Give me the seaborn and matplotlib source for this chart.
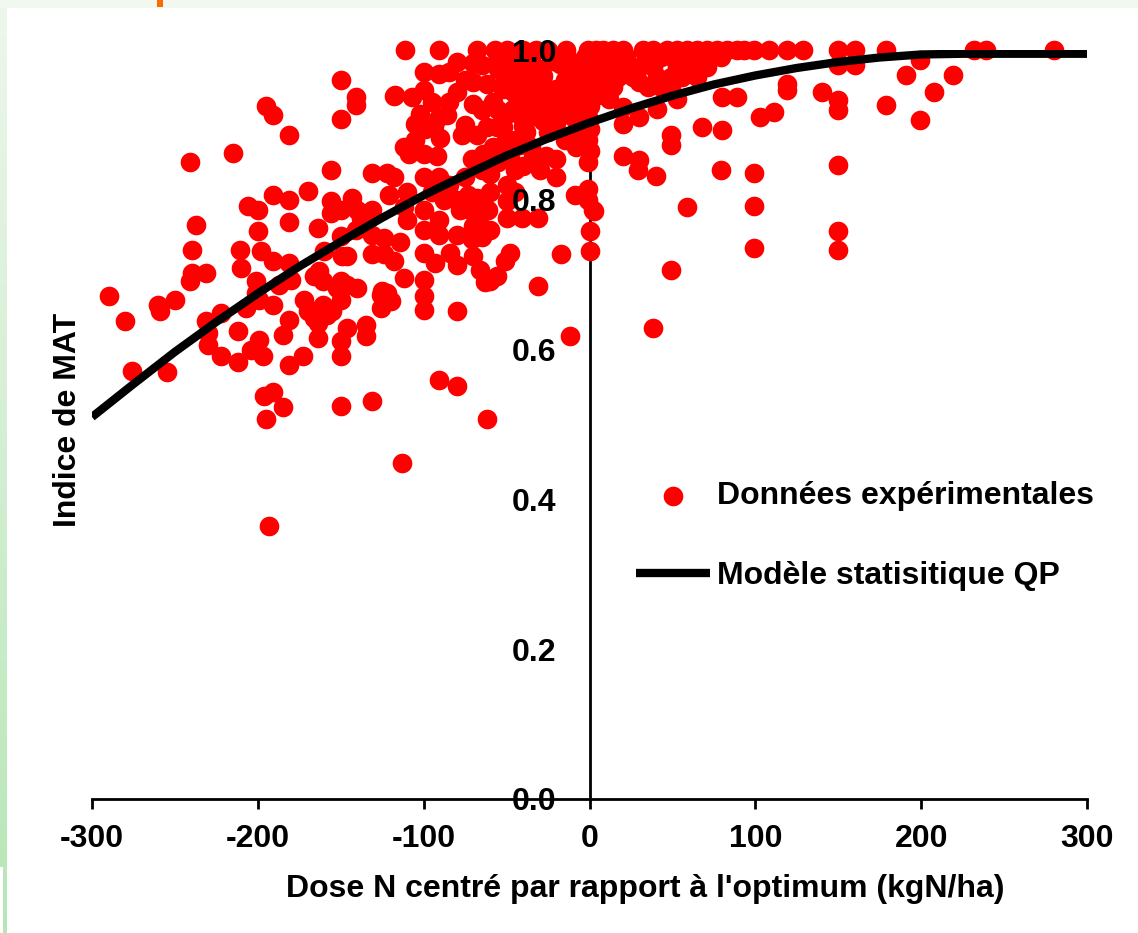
import matplotlib
matplotlib.use("Agg")
import matplotlib.pyplot as plt
from matplotlib.patches import Rectangle
from matplotlib.colors import LinearSegmentedColormap
import numpy as np
import seaborn as sns

# ---------------- data ----------------
points = [
    (-290,0.672),(-280,0.638),(-276,0.571),(-260,0.660),(-259,0.651),(-255,0.570),(-250,0.666),
    (-241,0.850),(-241,0.692),(-240,0.733),(-240,0.702),(-237,0.767),
    (-231,0.702),(-231,0.638),(-230,0.622),(-230,0.606),(-222,0.649),(-222,0.592),
    (-215,0.863),(-212,0.625),(-212,0.584),(-211,0.733),(-210,0.709),
    (-207,0.655),(-206,0.792),(-204,0.599),(-201,0.676),(-201,0.692),(-200,0.787),(-200,0.759),
    (-199,0.613),(-199,0.666),(-198,0.732),(-197,0.591),(-196,0.538),(-195,0.925),(-195,0.508),
    (-193,0.365),(-191,0.913),(-191,0.807),(-191,0.718),(-191,0.660),(-191,0.544),
    (-187,0.686),(-185,0.619),(-185,0.524),(-181,0.887),(-181,0.800),(-181,0.771),(-181,0.716),
    (-181,0.639),(-181,0.579),(-180,0.693),
    (-173,0.592),(-172,0.666),(-170,0.812),(-170,0.651),(-167,0.651),(-166,0.698),(-166,0.642),
    (-164,0.763),(-164,0.635),(-164,0.615),(-163,0.705),
    (-161,0.692),(-161,0.660),(-160,0.732),(-158,0.646),(-156,0.840),(-156,0.799),(-156,0.783),(-155,0.651),
    (-152,0.682),(-150,0.960),(-150,0.908),(-150,0.787),(-150,0.752),(-150,0.692),(-150,0.666),
    (-150,0.611),(-150,0.592),(-150,0.525),
    (-149,0.725),(-146,0.725),(-146,0.686),(-146,0.629),(-143,0.803),(-141,0.937),(-141,0.926),
    (-141,0.760),(-140,0.786),(-140,0.682),(-138,0.776),
    (-135,0.633),(-135,0.618),(-131,0.836),(-131,0.786),(-131,0.753),(-131,0.727),(-131,0.532),
    (-126,0.673),(-126,0.655),(-125,0.678),
    (-124,0.749),(-124,0.727),(-122,0.836),(-122,0.676),(-121,0.806),(-120,0.665),(-118,0.938),
    (-118,0.831),(-118,0.718),(-117,0.940),(-114,0.743),(-113,0.448),(-112,0.696),(-112,0.870),
    (-112,0.790),(-111,1.000),(-110,0.773),(-110,0.810),(-109,0.861),(-107,0.937),(-105,0.901),
    (-105,0.880),(-102,0.914),
    (-100,0.970),(-100,0.946),(-99,0.894),(-100,0.861),(-100,0.830),(-100,0.786),(-100,0.760),
    (-100,0.729),(-100,0.693),(-100,0.672),(-100,0.653),
    (-95,0.930),(-95,0.810),(-94,0.899),(-93,0.716),(-92,0.859),(-91,1.000),(-91,0.968),(-91,0.910),
    (-91,0.830),(-91,0.773),(-91,0.753),(-90,0.883),(-91,0.560),(-88,0.800),
    (-86,0.913),(-85,0.970),(-85,0.930),(-85,0.820),(-84,0.729),(-80,0.984),(-80,0.944),(-80,0.800),
    (-80,0.753),(-80,0.713),(-80,0.651),(-80,0.551),(-78,0.786),(-77,0.887),
    (-75,0.960),(-75,0.900),(-75,0.830),(-73,0.807),(-72,0.786),(-71,0.854),(-71,0.747),(-70,0.982),
    (-70,0.957),(-70,0.928),(-70,0.765),(-70,0.725),(-68,1.000),(-68,0.887),(-68,0.803),
    (-66,0.780),(-66,0.706),(-65,0.980),(-65,0.920),(-65,0.840),(-65,0.750),(-64,0.861),(-63,0.690),
    (-62,0.955),(-62,0.897),(-62,0.508),(-61,0.787),(-60,0.835),(-60,0.810),(-60,0.760),(-60,0.692),
    (-58,0.930),(-58,0.870),(-57,1.000),(-56,0.897),(-56,0.698),(-55,0.990),(-55,0.975),(-55,0.920),
    (-55,0.850),
    (-52,0.948),(-52,0.897),(-51,0.960),(-51,0.877),(-51,0.718),
    (-50,1.000),(-50,0.977),(-50,0.914),(-50,0.820),(-50,0.799),(-50,0.776),(-48,0.955),(-48,0.860),
    (-48,0.729),
    (-46,0.944),(-46,0.921),(-45,0.990),(-45,0.965),(-45,0.880),(-45,0.840),(-45,0.810),(-44,0.957),
    (-42,0.985),(-42,0.913),(-42,0.873),(-41,0.776),(-40,1.000),(-40,0.940),(-40,0.899),(-40,0.845),
    (-38,0.964),(-38,0.890),(-37,0.975),(-36,0.910),(-35,0.985),(-35,0.930),(-35,0.870),(-34,0.857),
    (-33,0.950),(-32,1.000),(-31,0.776),(-31,0.685),(-30,0.975),(-30,0.960),(-30,0.926),(-30,0.840),
    (-28,0.965),(-28,0.905),(-27,0.940),(-26,0.859),(-25,1.000),(-25,0.920),(-25,0.890),
    (-22,0.985),(-22,0.940),
    (-20,0.948),(-20,0.903),(-20,0.854),(-20,0.830),(-18,0.981),(-18,0.915),(-17,0.728),(-15,0.960),
    (-15,0.930),(-15,0.880),(-14,1.000),(-12,0.985),(-12,0.944),(-12,0.618),(-10,0.973),(-10,0.910),
    (-9,0.807),(-8,0.930),
    (-8,0.870),(-6,0.950),(-5,0.980),(-5,0.890),(-4,0.960),(-4,0.920),(-3,0.990),(-2,0.930),
    (-1,1.000),(0,0.985),(-1,0.970),(0,0.955),(-1,0.940),(0,0.925),(-1,0.910),(0,0.895),
    (-1,0.880),(0,0.865),(-1,0.850),(-1,0.814),(-1,0.800),(2,0.787),(0,0.759),(0,0.732),(3,0.785),
    (5,0.940),(6,0.975),(9,0.955),(12,0.935),(16,0.975),
    (4,1.000),(8,1.000),(14,1.000),(20,1.000),(32,1.000),(38,1.000),(47,1.000),(53,1.000),
    (59,1.000),(65,1.000),(71,1.000),(77,1.000),(83,1.000),(89,1.000),(93,1.000),(99,1.000),
    (108,1.000),(119,1.000),(129,1.000),(150,1.000),(160,1.000),(179,1.000),(232,1.000),
    (239,1.000),(280,1.000),
    (6,0.990),(14,0.990),(22,0.990),(35,0.990),(43,0.990),(50,0.990),(61,0.990),(71,0.990),(79,0.990),
    (22,0.977),(30,0.977),(38,0.977),(53,0.977),(62,0.977),(71,0.977),
    (17,0.964),(26,0.964),(41,0.964),(49,0.964),(56,0.964),(65,0.964),
    (14,0.950),(35,0.950),(43,0.950),(49,0.950),(12,0.957),(30,0.957),
    (53,0.934),(80,0.937),(89,0.937),(20,0.924),(30,0.910),(41,0.921),(20,0.901),(49,0.887),
    (49,0.873),(68,0.897),(80,0.893),(103,0.910),(111,0.917),(119,0.954),(119,0.946),(140,0.944),
    (150,0.980),(160,0.980),(150,0.933),(150,0.920),(179,0.926),(191,0.966),(199,0.987),
    (199,0.906),(208,0.944),(219,0.966),
    (20,0.859),(29,0.840),(30,0.853),(40,0.832),(79,0.840),(99,0.836),(150,0.847),
    (59,0.790),(99,0.792),(150,0.759),(150,0.733),(99,0.736),(49,0.706),(38,0.629),
]
dose_x = [p[0] for p in points]
indice_y = [p[1] for p in points]

curve_x = [-300, -275, -250, -225, -200, -175, -150, -125, -100, -75, -50, -25, 0,
           25, 50, 75, 100, 125, 150, 175, 200, 225, 250, 275, 300]
curve_y = [0.510, 0.554, 0.597, 0.637, 0.675, 0.711, 0.744, 0.776, 0.806, 0.833, 0.859, 0.882, 0.903,
           0.922, 0.939, 0.954, 0.966, 0.976, 0.984, 0.990, 0.994, 0.995, 0.995, 0.995, 0.995]

x_ticks = [-300, -200, -100, 0, 100, 200, 300]
y_ticks = [0.0, 0.2, 0.4, 0.6, 0.8, 1.0]
y_tick_labels = ["0.0", "0.2", "0.4", "0.6", "0.8", "1.0"]

label_pts = "Données expérimentales"
label_model = "Modèle statisitique QP"
xlabel = "Dose N centré par rapport à l'optimum (kgN/ha)"
ylabel = "Indice de MAT"

# ---------------- style ----------------
sns.set_style("white")
plt.rcParams["font.family"] = ["Liberation Sans", "DejaVu Sans"]
plt.rcParams["font.weight"] = "bold"
plt.rcParams["text.color"] = "black"
FS = 23

W, H = 1138, 933
fig = plt.figure(figsize=(W / 100, H / 100), dpi=100)
fig.patch.set_facecolor("white")

# decorative frame of the slide
fig.patches.append(Rectangle((0, 1 - 8 / H), 1, 8 / H, transform=fig.transFigure,
                             facecolor="#f1f8ef", edgecolor="none", zorder=0))
lax = fig.add_axes([0, 0, 7 / W, 1])
grad = np.linspace(0, 1, 256).reshape(-1, 1)
cmap = LinearSegmentedColormap.from_list("g", ["#eef7ec", "#b6e6b6"])
lax.imshow(grad, aspect="auto", cmap=cmap, extent=[0, 1, 0, 1], origin="upper")
lax.add_patch(Rectangle((0, 0), 0.43, 66 / H, facecolor="white", edgecolor="none"))
lax.set_xlim(0, 1); lax.set_ylim(0, 1)
lax.axis("off")
fig.patches.append(Rectangle((157 / W, 1 - 7 / H), 6 / W, 7 / H, transform=fig.transFigure,
                             facecolor="#ff6a00", edgecolor="none", zorder=3))

ax = fig.add_axes([92 / W, 1 - 799 / H, 995 / W, 749 / H])
ax.set_facecolor("none")

sns.scatterplot(x=dose_x, y=indice_y, ax=ax, color="#ff0000", s=200, linewidth=0,
                label=label_pts, zorder=2, clip_on=False)
sns.lineplot(x=curve_x, y=curve_y, ax=ax, color="black", linewidth=6,
             label=label_model, zorder=3, solid_capstyle="butt")

ax.set_xlim(-300, 300)
ax.set_ylim(0, 1.0)
ax.set_xticks(x_ticks)
ax.set_xticklabels([str(v) for v in x_ticks])
ax.set_yticks(y_ticks)
ax.set_yticklabels(y_tick_labels)
ax.set_xlabel("")
ax.set_ylabel("")

for s in ["top", "right"]:
    ax.spines[s].set_visible(False)
ax.spines["left"].set_position(("data", 0))
for s in ["left", "bottom"]:
    ax.spines[s].set_linewidth(2.0)
    ax.spines[s].set_color("black")
    ax.spines[s].set_zorder(1)
ax.yaxis.set_zorder(2.6)

ax.tick_params(axis="x", direction="out", length=7, width=2.0, pad=11, labelsize=FS,
               colors="black", bottom=True)
ax.tick_params(axis="y", length=0, pad=24, labelsize=FS, colors="black", left=True)
for t in ax.get_xticklabels() + ax.get_yticklabels():
    t.set_fontweight("bold")
    t.set_color("black")

handles, labels = ax.get_legend_handles_labels()
leg = ax.legend(handles, labels, loc="upper left",
                bbox_to_anchor=(636 / W, 1 - 481 / H), bbox_transform=fig.transFigure,
                frameon=False, borderpad=0, borderaxespad=0, handlelength=2.32,
                handletextpad=0.22, labelspacing=1.56, prop={"size": FS, "weight": "bold"})
for t in leg.get_texts():
    t.set_color("black")

fig.text(645 / W, 1 - 889 / H, xlabel, ha="center", va="center", fontsize=FS,
         fontweight="bold", color="black")
fig.text(68 / W, 1 - 420 / H, ylabel, ha="center", va="center", rotation=90,
         fontsize=FS, fontweight="bold", color="black")

fig.savefig("out.png", dpi=100)
